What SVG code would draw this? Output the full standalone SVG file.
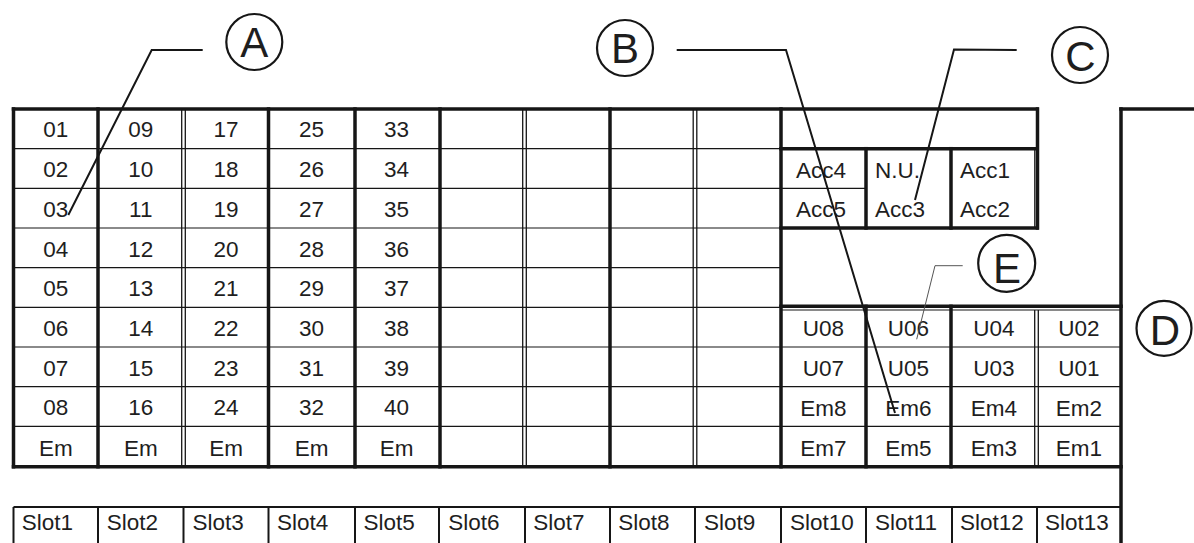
<svg xmlns="http://www.w3.org/2000/svg" width="1194" height="543" viewBox="0 0 1194 543">
<style>
 line, polyline, circle {fill:none; stroke:#161616;}
 .k{stroke-width:3.5; stroke-linecap:square}
 .t{stroke-width:1.2}
 .m{stroke-width:2}
 .d{stroke-width:1.3}
 text{font-family:"Liberation Sans", Arial, sans-serif; fill:#1e1e1e;}
 .c{font-size:22.5px; text-anchor:middle}
 .s{font-size:22.5px}
 .L{font-size:42px; text-anchor:middle}
 .ld{stroke-width:2}
 .le{stroke-width:1; stroke:#555}
 .cc{stroke-width:2.2}
</style>
<rect width="1194" height="543" fill="#fff"/>
<g id="grid">
 <g id="rows-thin">
  <line class="t" x1="13.5" y1="148.7" x2="781" y2="148.7"/>
  <line class="t" x1="13.5" y1="188.3" x2="866" y2="188.3"/>
  <line class="t" x1="13.5" y1="228" x2="781" y2="228"/>
  <line class="t" x1="13.5" y1="267.7" x2="781" y2="267.7"/>
  <line class="t" x1="13.5" y1="307.3" x2="781" y2="307.3"/>
  <line class="t" x1="13.5" y1="347" x2="1121" y2="347"/>
  <line class="t" x1="13.5" y1="386.7" x2="1121" y2="386.7"/>
  <line class="t" x1="13.5" y1="426.3" x2="1121" y2="426.3"/>
  <line class="t" x1="781" y1="310" x2="1121" y2="310"/>
 </g>
 <g id="rows-thick">
  <line class="k" x1="13.5" y1="109" x2="1037" y2="109"/>
  <line class="k" x1="781" y1="148.7" x2="1037" y2="148.7"/>
  <line class="k" x1="781" y1="228" x2="1037" y2="228"/>
  <line class="k" x1="781" y1="306.3" x2="1121" y2="306.3"/>
  <line class="k" x1="13.5" y1="466.7" x2="1121" y2="466.7"/>
  <line class="k" x1="1121" y1="109" x2="1196" y2="109"/>
 </g>
 <g id="cols">
  <line class="k" x1="13.5" y1="109" x2="13.5" y2="466.7"/>
  <line class="k" x1="98" y1="109" x2="98" y2="466.7"/>
  <line class="d" x1="181.7" y1="109" x2="181.7" y2="466.7"/>
  <line class="d" x1="185.3" y1="109" x2="185.3" y2="466.7"/>
  <line class="k" x1="268.5" y1="109" x2="268.5" y2="466.7"/>
  <line class="k" x1="355" y1="109" x2="355" y2="466.7"/>
  <line class="k" x1="440" y1="109" x2="440" y2="466.7"/>
  <line class="d" x1="522.7" y1="109" x2="522.7" y2="466.7"/>
  <line class="d" x1="526.3" y1="109" x2="526.3" y2="466.7"/>
  <line class="k" x1="610" y1="109" x2="610" y2="466.7"/>
  <line class="d" x1="693.2" y1="109" x2="693.2" y2="466.7"/>
  <line class="d" x1="696.8" y1="109" x2="696.8" y2="466.7"/>
  <line class="k" x1="781" y1="109" x2="781" y2="466.7"/>
  <line class="k" x1="866" y1="148.7" x2="866" y2="228"/>
  <line class="k" x1="951" y1="148.7" x2="951" y2="228"/>
  <line class="k" x1="1037.5" y1="109" x2="1037.5" y2="228"/>
  <line class="d" x1="1034.8" y1="148.7" x2="1034.8" y2="228"/>
  <line class="k" x1="866" y1="306.3" x2="866" y2="466.7"/>
  <line class="k" x1="951" y1="306.3" x2="951" y2="466.7"/>
  <line class="d" x1="1034.7" y1="310" x2="1034.7" y2="466.7"/>
  <line class="d" x1="1038.3" y1="310" x2="1038.3" y2="466.7"/>
  <line class="k" x1="1121" y1="109" x2="1121" y2="545"/>
 </g>
 <g id="slots-lines">
  <line class="m" x1="13.5" y1="507" x2="1121" y2="507"/>
  <line class="m" x1="13.5" y1="507" x2="13.5" y2="545"/>
  <line class="m" x1="98" y1="507" x2="98" y2="545"/>
  <line class="m" x1="183.5" y1="507" x2="183.5" y2="545"/>
  <line class="m" x1="268.5" y1="507" x2="268.5" y2="545"/>
  <line class="m" x1="355" y1="507" x2="355" y2="545"/>
  <line class="m" x1="439" y1="507" x2="439" y2="545"/>
  <line class="m" x1="525" y1="507" x2="525" y2="545"/>
  <line class="m" x1="610" y1="507" x2="610" y2="545"/>
  <line class="m" x1="695" y1="507" x2="695" y2="545"/>
  <line class="m" x1="781" y1="507" x2="781" y2="545"/>
  <line class="m" x1="866" y1="507" x2="866" y2="545"/>
  <line class="m" x1="952" y1="507" x2="952" y2="545"/>
  <line class="m" x1="1037" y1="507" x2="1037" y2="545"/>
 </g>
</g>
<g id="numbers" class="c">
 <text class="c" x="55.75" y="137.4">01</text><text class="c" x="55.75" y="177.1">02</text><text class="c" x="55.75" y="216.8">03</text><text class="c" x="55.75" y="256.5">04</text><text class="c" x="55.75" y="296.2">05</text><text class="c" x="55.75" y="335.9">06</text><text class="c" x="55.75" y="375.7">07</text><text class="c" x="55.75" y="415.4">08</text><text class="c" x="55.75" y="455.5">Em</text>
 <text class="c" x="140.75" y="137.4">09</text><text class="c" x="140.75" y="177.1">10</text><text class="c" x="140.75" y="216.8">11</text><text class="c" x="140.75" y="256.5">12</text><text class="c" x="140.75" y="296.2">13</text><text class="c" x="140.75" y="335.9">14</text><text class="c" x="140.75" y="375.7">15</text><text class="c" x="140.75" y="415.4">16</text><text class="c" x="140.75" y="455.5">Em</text>
 <text class="c" x="226" y="137.4">17</text><text class="c" x="226" y="177.1">18</text><text class="c" x="226" y="216.8">19</text><text class="c" x="226" y="256.5">20</text><text class="c" x="226" y="296.2">21</text><text class="c" x="226" y="335.9">22</text><text class="c" x="226" y="375.7">23</text><text class="c" x="226" y="415.4">24</text><text class="c" x="226" y="455.5">Em</text>
 <text class="c" x="311.5" y="137.4">25</text><text class="c" x="311.5" y="177.1">26</text><text class="c" x="311.5" y="216.8">27</text><text class="c" x="311.5" y="256.5">28</text><text class="c" x="311.5" y="296.2">29</text><text class="c" x="311.5" y="335.9">30</text><text class="c" x="311.5" y="375.7">31</text><text class="c" x="311.5" y="415.4">32</text><text class="c" x="311.5" y="455.5">Em</text>
 <text class="c" x="396.5" y="137.4">33</text><text class="c" x="396.5" y="177.1">34</text><text class="c" x="396.5" y="216.8">35</text><text class="c" x="396.5" y="256.5">36</text><text class="c" x="396.5" y="296.2">37</text><text class="c" x="396.5" y="335.9">38</text><text class="c" x="396.5" y="375.7">39</text><text class="c" x="396.5" y="415.4">40</text><text class="c" x="396.5" y="455.5">Em</text>
</g>
<g id="acc">
 <text class="s" x="796" y="177.5">Acc4</text><text class="s" x="796" y="217">Acc5</text>
 <text class="s" x="875" y="177.5">N.U.</text><text class="s" x="875" y="217">Acc3</text>
 <text class="s" x="960" y="177.5">Acc1</text><text class="s" x="960" y="217">Acc2</text>
</g>
<g id="units">
 <text class="c" x="823.5" y="336">U08</text><text class="c" x="908.5" y="336">U06</text><text class="c" x="994" y="336">U04</text><text class="c" x="1079" y="336">U02</text>
 <text class="c" x="823.5" y="375.7">U07</text><text class="c" x="908.5" y="375.7">U05</text><text class="c" x="994" y="375.7">U03</text><text class="c" x="1079" y="375.7">U01</text>
 <text class="c" x="823.5" y="415.6">Em8</text><text class="c" x="908.5" y="415.6">Em6</text><text class="c" x="994" y="415.6">Em4</text><text class="c" x="1079" y="415.6">Em2</text>
 <text class="c" x="823.5" y="455.5">Em7</text><text class="c" x="908.5" y="455.5">Em5</text><text class="c" x="994" y="455.5">Em3</text><text class="c" x="1079" y="455.5">Em1</text>
</g>
<g id="slots">
 <text class="s" x="21.7" y="529.5">Slot1</text><text class="s" x="106.7" y="529.5">Slot2</text><text class="s" x="192.5" y="529.5">Slot3</text><text class="s" x="277" y="529.5">Slot4</text><text class="s" x="363.5" y="529.5">Slot5</text><text class="s" x="448.3" y="529.5">Slot6</text><text class="s" x="533.3" y="529.5">Slot7</text><text class="s" x="618.3" y="529.5">Slot8</text><text class="s" x="704" y="529.5">Slot9</text><text class="s" x="790" y="529.5">Slot10</text><text class="s" x="875" y="529.5">Slot11</text><text class="s" x="960" y="529.5">Slot12</text><text class="s" x="1045" y="529.5">Slot13</text>
</g>
<g id="connectors">
 <polyline class="ld" points="68.3,215 151.7,50 202.7,50"/>
 <polyline class="ld" points="676.7,50 786,50 895,413"/>
 <polyline class="ld" points="1016.7,50 954,49.5 915,200"/>
 <polyline class="le" points="962.7,265.7 935,265.7 916.7,339.3"/>
</g>
<g id="callout-A"><circle class="cc" cx="254.3" cy="42" r="28"/><text class="L" x="254.3" y="57">A</text></g>
<g id="callout-B"><circle class="cc" cx="625" cy="48" r="28"/><text class="L" x="625" y="63.3">B</text></g>
<g id="callout-C"><circle class="cc" cx="1080" cy="55" r="28"/><text class="L" x="1080.5" y="71">C</text></g>
<g id="callout-D"><circle class="cc" cx="1164" cy="328.3" r="27.5"/><text class="L" x="1165" y="345">D</text></g>
<g id="callout-E"><circle class="cc" cx="1006.7" cy="263.3" r="28.5"/><text class="L" x="1007" y="283">E</text></g>
</svg>
